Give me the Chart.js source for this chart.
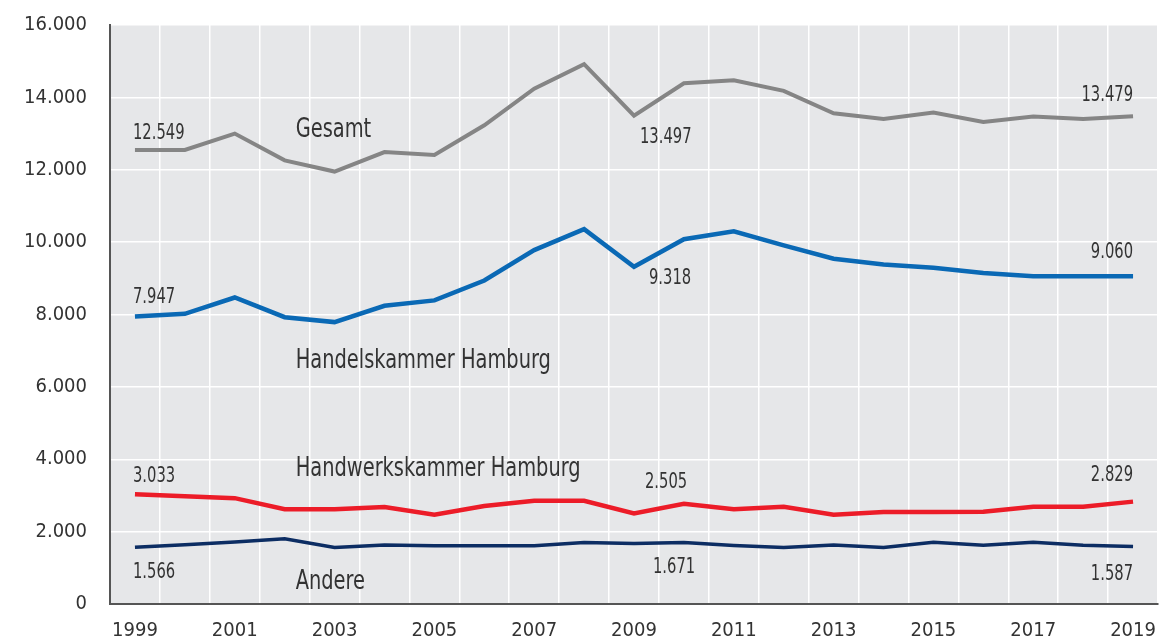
<!DOCTYPE html>
<html>
<head>
<meta charset="utf-8">
<script src="https://cdn.jsdelivr.net/npm/chart.js@4/dist/chart.umd.min.js"></script>
<style>
  html, body { margin: 0; padding: 0; background: #fff; }
  #wrap { width: 1176px; height: 642px; position: relative; }
</style>
</head>
<body>
<div id="wrap"><canvas id="c" width="1176" height="642"></canvas></div>
<script>
const years = ['1999','2000','2001','2002','2003','2004','2005','2006','2007','2008','2009','2010','2011','2012','2013','2014','2015','2016','2017','2018','2019'];
const gesamt = [12549, 12549, 13000, 12260, 11950, 12490, 12410, 13230, 14240, 14920, 13497, 14390, 14470, 14180, 13560, 13400, 13580, 13320, 13470, 13400, 13479];
const handelskammer = [7947, 8020, 8470, 7925, 7790, 8240, 8390, 8940, 9780, 10360, 9318, 10080, 10300, 9910, 9540, 9380, 9290, 9150, 9060, 9060, 9060];
const handwerkskammer = [3033, 2980, 2925, 2620, 2620, 2680, 2465, 2710, 2850, 2850, 2505, 2770, 2620, 2690, 2465, 2540, 2540, 2550, 2690, 2690, 2829];
const andere = [1566, 1640, 1716, 1800, 1560, 1630, 1610, 1610, 1610, 1700, 1671, 1697, 1614, 1560, 1633, 1560, 1707, 1624, 1707, 1624, 1587];
const yTicks = [0, 2000, 4000, 6000, 8000, 10000, 12000, 14000, 16000];

// value labels: [series, index, dx, dy, align]
const valueLabels = [
  [gesamt, 0, -2, -16, 'left'], [gesamt, 10, 6, 22, 'left'], [gesamt, 20, 0, -21, 'right'],
  [handelskammer, 0, -2, -19, 'left'], [handelskammer, 10, 15, 12, 'left'], [handelskammer, 20, 0, -24, 'right'],
  [handwerkskammer, 0, -2, -18, 'left'], [handwerkskammer, 10, 11, -31, 'left'], [handwerkskammer, 20, 0, -26, 'right'],
  [andere, 0, -2, 25, 'left'], [andere, 10, 19, 24, 'left'], [andere, 20, 0, 28, 'right']
];
// series name labels: [text, category index anchor, value anchor, dx]
const nameLabels = [
  ['Gesamt', 3, 13100, 11],
  ['Handelskammer Hamburg', 3, 6700, 11],
  ['Handwerkskammer Hamburg', 3, 3710, 11],
  ['Andere', 3, 610, 11]
];

const FONT = "'Liberation Sans Narrow', 'DejaVu Sans Condensed', 'Roboto', sans-serif";
const fmt = v => String(v).replace(/\B(?=(\d{3})+(?!\d))/g, '.');

const bgPlugin = {
  id: 'bg',
  beforeDraw(chart) {
    const {ctx, chartArea: a} = chart;
    ctx.save();
    ctx.fillStyle = '#e6e7e9';
    ctx.fillRect(a.left, a.top, a.right - a.left, a.bottom - a.top);
    ctx.restore();
  }
};
function narrowText(ctx, t, x, y, sx, align) {
  ctx.save();
  ctx.translate(x, y);
  ctx.scale(sx, 1);
  ctx.textAlign = align;
  ctx.fillText(t, 0, 0);
  ctx.restore();
}
const labelPlugin = {
  id: 'labels',
  afterDatasetsDraw(chart) {
    const ctx = chart.ctx;
    const xs = chart.scales.x, ys = chart.scales.y;
    ctx.save();
    ctx.fillStyle = '#333';
    ctx.textBaseline = 'middle';
    ctx.font = '21px ' + FONT;
    valueLabels.forEach(([arr, i, dx, dy, align]) => {
      narrowText(ctx, fmt(arr[i]), xs.getPixelForValue(i) + dx, ys.getPixelForValue(arr[i]) + dy, 0.78, align);
    });
    ctx.font = '26px ' + FONT;
    nameLabels.forEach(([t, i, v, dx]) => {
      narrowText(ctx, t, xs.getPixelForValue(i) + dx, ys.getPixelForValue(v), 0.83, 'left');
    });
    ctx.restore();
  }
};

const mk = (label, data, color, w) => ({
  label, data, borderColor: color, backgroundColor: color, borderWidth: w,
  pointRadius: 0, tension: 0, fill: false, borderJoinStyle: 'miter'
});

new Chart(document.getElementById('c'), {
  type: 'line',
  data: {
    labels: years,
    datasets: [
      mk('Gesamt', gesamt, '#858585', 4),
      mk('Handelskammer Hamburg', handelskammer, '#0a69b5', 4.5),
      mk('Handwerkskammer Hamburg', handwerkskammer, '#ec1c28', 4.5),
      mk('Andere', andere, '#0c2d63', 3.5)
    ]
  },
  options: {
    responsive: false,
    animation: false,
    layout: { padding: { top: 25, right: 18, left: 0, bottom: 0 } },
    plugins: { legend: { display: false }, tooltip: { enabled: false } },
    scales: {
      x: {
        offset: true,
        grid: { offset: true, color: '#ffffff', lineWidth: 1.5, drawTicks: false },
        border: { display: true, color: '#555555', width: 2 },
        ticks: {
          autoSkip: false, maxRotation: 0, padding: 15, color: '#333',
          font: { family: FONT, size: 20 },
          callback: (v, i) => (i % 2 === 0 ? years[i] : '')
        },
        afterFit: s => { s.height = 38; s.paddingLeft = 0; s.paddingRight = 0; }
      },
      y: {
        min: 0, max: 16000,
        afterBuildTicks: s => { s.ticks = yTicks.map(v => ({ value: v })); },
        grid: { color: '#ffffff', lineWidth: 1.5, drawTicks: false },
        border: { display: true, color: '#555555', width: 2 },
        ticks: {
          padding: 23, color: '#333',
          font: { family: FONT, size: 20 },
          callback: v => fmt(v)
        },
        afterFit: s => { s.width = 110; s.paddingTop = 0; s.paddingBottom = 0; }
      }
    }
  },
  plugins: [bgPlugin, labelPlugin]
});
</script>
</body>
</html>
